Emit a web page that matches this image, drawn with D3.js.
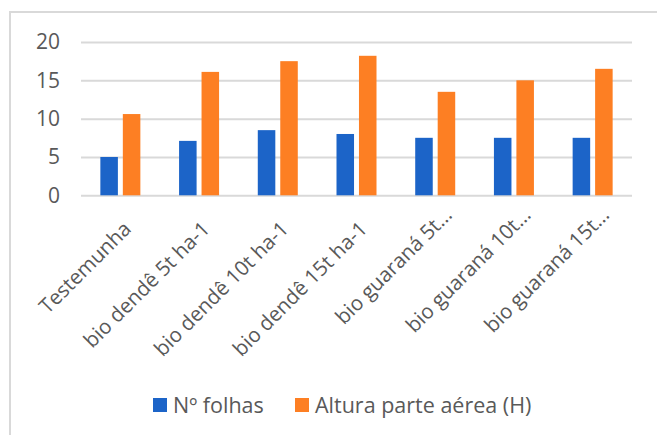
<!DOCTYPE html>
<html>
<head>
<meta charset="utf-8">
<script src="https://cdn.jsdelivr.net/npm/d3@7"></script>
<style>
  html, body { margin: 0; padding: 0; background: #fff; }
  svg { display: block; }
  text { font-family: "Open Sans", sans-serif; fill: #595959; }
</style>
</head>
<body>
<script>
// Treatments on the x axis
const categories = [
  "Testemunha",
  "bio dendê 5t ha-1",
  "bio dendê 10t ha-1",
  "bio dendê 15t ha-1",
  "bio guaraná 5t…",
  "bio guaraná 10t…",
  "bio guaraná 15t…"
];
const seriesNames = ["Nº folhas", "Altura parte aérea (H)"];
const folhas = [5.0, 7.1, 8.5, 8.0, 7.5, 7.5, 7.5];
const altura = [10.6, 16.1, 17.5, 18.2, 13.5, 15.0, 16.5];
const yTicks = [0, 5, 10, 15, 20];
const colors = ["#1c64c8", "#fd7f23"];

const W = 657, H = 435;
const svg = d3.select("body").append("svg").attr("width", W).attr("height", H);

// Outer chart frame (extends past the right and bottom edges)
svg.append("rect")
  .attr("x", 10).attr("y", 12)
  .attr("width", W + 20).attr("height", H + 20)
  .attr("fill", "none").attr("stroke", "#d9d9d9").attr("stroke-width", 2);

const plot = { left: 81, right: 632, top: 42, bottom: 195.3 };

const y = d3.scaleLinear().domain([0, 20]).range([plot.bottom, plot.top]);
const x0 = d3.scaleBand().domain(categories).range([plot.left, plot.right]).padding(0);
const groupW = 40;
const x1 = d3.scaleBand().domain(seriesNames).range([0, groupW]).paddingInner(0.22);

// Horizontal gridlines
const yAxis = d3.axisLeft(y).tickValues(yTicks).tickSize(-(plot.right - plot.left));
const gy = svg.append("g").attr("transform", `translate(${plot.left},0)`).call(yAxis);
gy.select(".domain").remove();
gy.selectAll(".tick line").attr("stroke", "#d9d9d9").attr("stroke-width", 2);
gy.selectAll(".tick text")
  .attr("x", -21)
  .style("font-size", "21px").attr("fill", "#595959");

// Bars
const rows = categories.map((c, i) => ({ cat: c, vals: [folhas[i], altura[i]] }));
const groups = svg.append("g").selectAll("g").data(rows).join("g")
  .attr("transform", d => `translate(${x0(d.cat) + x0.bandwidth() / 2 - groupW / 2},0)`);
groups.selectAll("rect").data(d => d.vals.map((v, j) => ({ s: seriesNames[j], v, j })))
  .join("rect")
  .attr("x", d => x1(d.s))
  .attr("width", x1.bandwidth())
  .attr("y", d => y(d.v))
  .attr("height", d => y(0) - y(d.v))
  .attr("fill", d => colors[d.j]);

// Category labels, rotated; truncated labels sit a little further along
const xAxis = d3.axisBottom(x0).tickSize(0).tickPadding(0);
const gx = svg.append("g").attr("transform", `translate(0,${plot.bottom})`).call(xAxis);
gx.select(".domain").remove();
gx.selectAll(".tick text")
  .style("font-size", "20.5px").attr("fill", "#595959")
  .attr("text-anchor", "end")
  .attr("dy", 0)
  .attr("transform", d => d.endsWith("…")
    ? "translate(18,21) rotate(-45)"
    : "translate(12,35) rotate(-45)");

// Legend
const legend = svg.append("g");
const legendItems = [{ x: 153, name: seriesNames[0] }, { x: 295, name: seriesNames[1] }];
legendItems.forEach((it, i) => {
  legend.append("rect").attr("x", it.x).attr("y", 398).attr("width", 14).attr("height", 14).attr("fill", colors[i]);
  legend.append("text").attr("x", it.x + 20).attr("y", 405).attr("dy", "0.35em")
    .style("font-size", "21.5px").text(it.name);
});
</script>
</body>
</html>
